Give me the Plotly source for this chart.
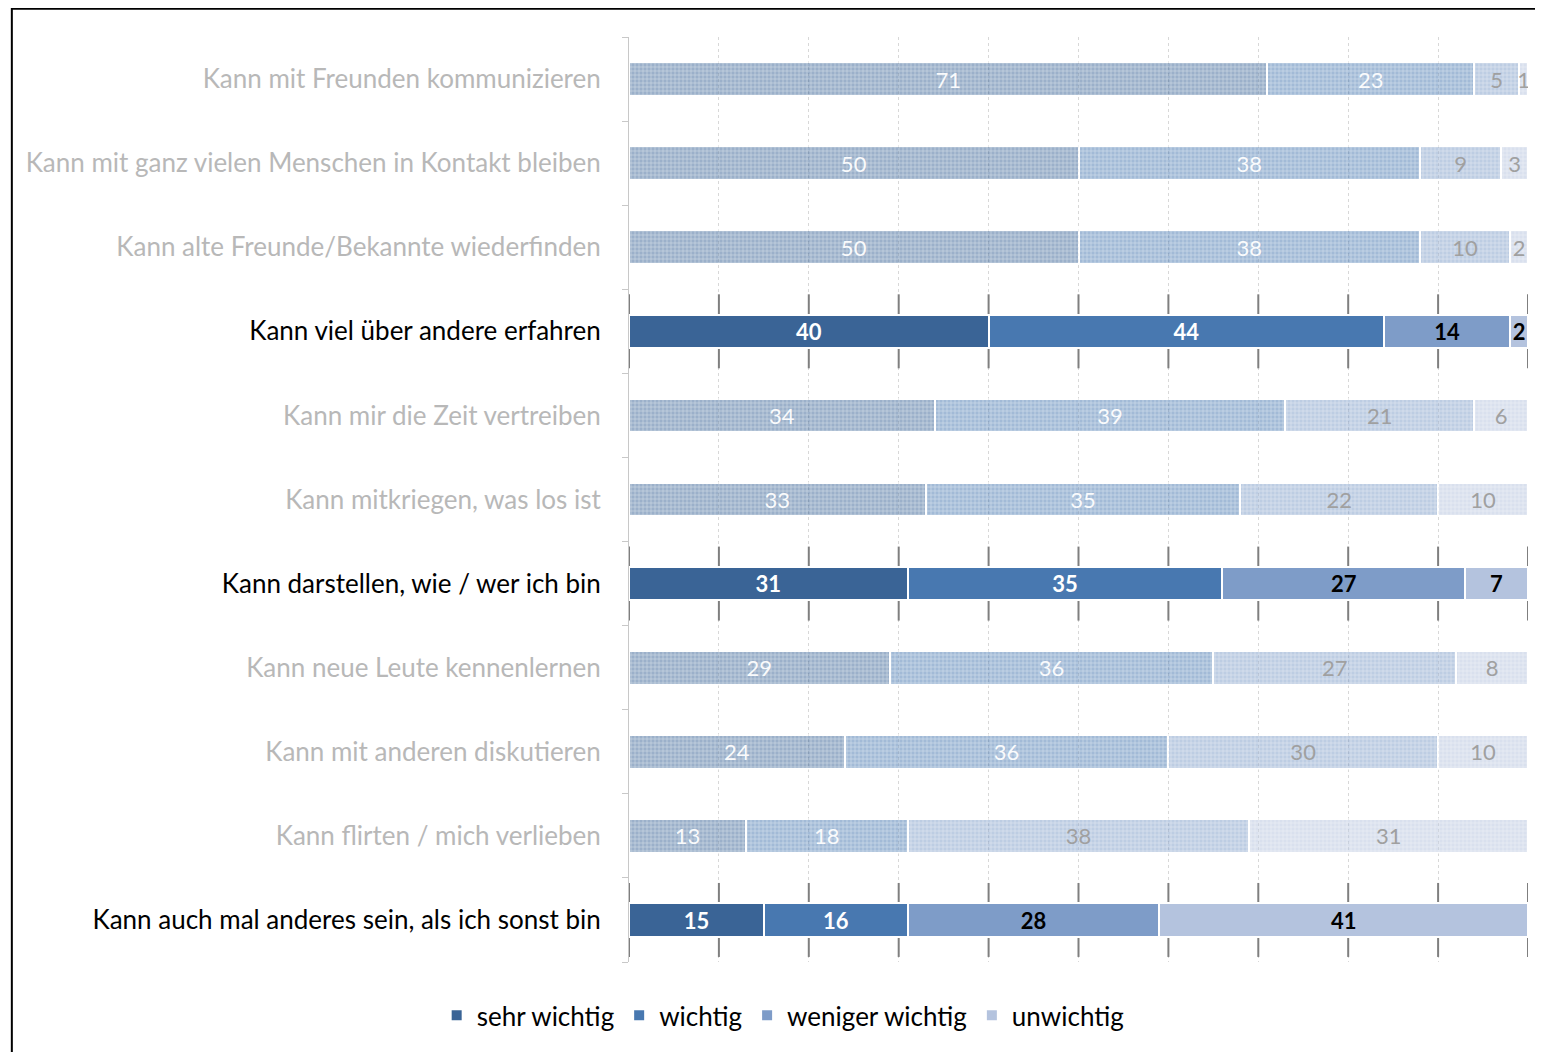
import plotly.graph_objects as go

categories = [
    "Kann mit Freunden kommunizieren",
    "Kann mit ganz vielen Menschen in Kontakt bleiben",
    "Kann alte Freunde/Bekannte wiederfinden",
    "Kann viel über andere erfahren",
    "Kann mir die Zeit vertreiben",
    "Kann mitkriegen, was los ist",
    "Kann darstellen, wie / wer ich bin",
    "Kann neue Leute kennenlernen",
    "Kann mit anderen diskutieren",
    "Kann flirten / mich verlieben",
    "Kann auch mal anderes sein, als ich sonst bin",
]
highlighted = [False, False, False, True, False, False, True, False, False, False, True]

series_names = ["sehr wichtig", "wichtig", "weniger wichtig", "unwichtig"]
sehr_wichtig = [71, 50, 50, 40, 34, 33, 31, 29, 24, 13, 15]
wichtig = [23, 38, 38, 44, 39, 35, 35, 36, 36, 18, 16]
weniger_wichtig = [5, 9, 10, 14, 21, 22, 27, 27, 30, 38, 28]
unwichtig = [1, 3, 2, 2, 6, 10, 7, 8, 10, 31, 41]
series_values = [sehr_wichtig, wichtig, weniger_wichtig, unwichtig]

colors = ["#3A6496", "#4878B0", "#7E9CC8", "#B4C3DE"]
text_colors = ["white", "white", "black", "black"]
faded_text_colors = ["rgba(255,255,255,0.95)", "rgba(255,255,255,0.95)", "#a0a0a0", "#a0a0a0"]

FONT = "Lato"

fig = go.Figure()
for name, vals, col, tcol, ftcol in zip(series_names, series_values, colors, text_colors, faded_text_colors):
    hv = [v if h else None for v, h in zip(vals, highlighted)]
    fv = [None if h else v for v, h in zip(vals, highlighted)]
    fig.add_trace(go.Bar(
        y=categories, x=hv, name=name, orientation="h",
        marker=dict(color=col, line=dict(color="white", width=2)),
        text=hv, texttemplate="<b>%{x}</b>", textposition="inside",
        insidetextanchor="middle", textangle=0,
        textfont=dict(family=FONT, size=24, color=tcol),
        legendgroup=name, showlegend=True,
    ))
    fig.add_trace(go.Bar(
        y=categories, x=fv, name=name, orientation="h",
        marker=dict(color=col, opacity=0.5, line=dict(color="white", width=2),
                    pattern=dict(shape="+", fgcolor="white", size=4, solidity=0.3)),
        text=fv, texttemplate="%{x}", textposition="inside",
        insidetextanchor="middle", textangle=0,
        textfont=dict(family=FONT, size=22, color=ftcol),
        legendgroup=name, showlegend=False,
    ))

ticktext = [
    (f"<span style='color:#000000'>{c}</span>" if h else f"<span style='color:#b8b8b8'>{c}</span>")
    for c, h in zip(categories, highlighted)
]

shapes = []
ticks = list(range(0, 101, 10))
for i, h in enumerate(highlighted):
    if h:
        for t in ticks:
            shapes.append(dict(type="line", xref="x", yref="y", x0=t, x1=t,
                               y0=i - 0.44, y1=i + 0.44, layer="between",
                               line=dict(color="#7f7f7f", width=2)))

# outer frame
shapes.append(dict(type="rect", xref="paper", yref="paper", x0=-0.6865, x1=1.05,
                   y0=-0.3, y1=1.0305, line=dict(color="black", width=2), layer="below"))

# page body has an 8px margin, so the figure is 8px smaller than the window
fig.update_layout(
    width=1535, height=1044,
    margin=dict(l=621, r=15, t=29, b=90),
    barmode="stack", bargap=0.6,
    plot_bgcolor="white", paper_bgcolor="white",
    font=dict(family=FONT, size=26, color="black"),
    uniformtext=dict(minsize=22, mode="show"),
    shapes=shapes,
    legend=dict(orientation="h", xref="container", x=0.505, xanchor="center",
                yref="container", y=0.035, yanchor="middle",
                font=dict(family=FONT, size=26, color="black"),
                itemwidth=30, traceorder="normal"),
    xaxis=dict(range=[0, 100], dtick=10, showticklabels=False, showgrid=True,
               gridcolor="#d8d8d8", griddash="dot", gridwidth=1, zeroline=False,
               showline=False, fixedrange=True),
    yaxis=dict(autorange="reversed", tickmode="array", tickvals=categories,
               ticktext=ticktext, showline=True, linecolor="#c8c8c8", linewidth=1,
               ticks="outside", tickson="boundaries", ticklen=6, tickcolor="#c8c8c8",
               ticklabelstandoff=22, tickfont=dict(family=FONT, size=26)),
)

fig.write_html("out.html")
